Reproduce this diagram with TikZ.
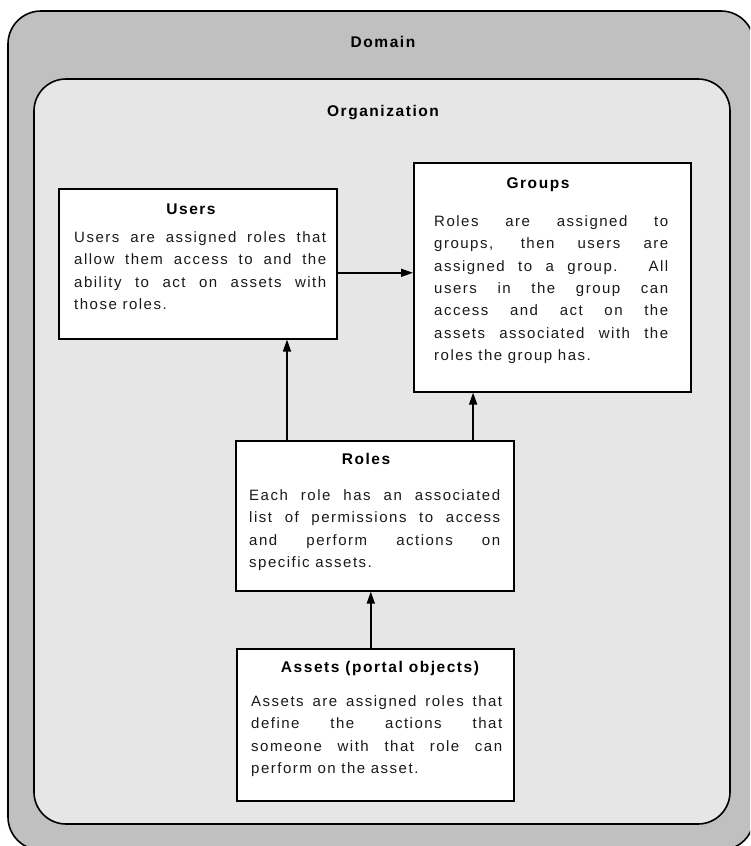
\documentclass[tikz,border=0pt]{standalone}
\usepackage{fontspec}
\setmainfont{Liberation Sans}
\newfontfamily\diafont{Liberation Sans}[LetterSpace=10]
\newfontfamily\headfont{Liberation Sans}[LetterSpace=10]
\usetikzlibrary{arrows.meta,calc}

\definecolor{domaingray}{HTML}{C0C0C0}
\definecolor{orggray}{HTML}{E6E6E6}
\definecolor{inkgray}{HTML}{1A1A1A}

\begin{document}
\begin{tikzpicture}[x=1pt,y=-1pt,
  frame/.style={draw=black, line width=1.6pt},
  card/.style={draw=black, line width=1.6pt, fill=white, inner sep=0pt,
    anchor=north west},
  heading/.style={font=\headfont\bfseries\fontsize{15.5}{18}\selectfont,
    inner sep=0pt, anchor=base},
  body/.style={font=\diafont\fontsize{15}{22.3}\selectfont,
    text=inkgray, inner sep=0pt, align=justify, anchor=north west},
  link/.style={line width=1.7pt, -{Triangle[length=12pt,width=8pt]}}
]
\useasboundingbox (0,0) rectangle (750,846);

% outer domain frame, running past the page edge at right and bottom
\begin{scope}
  \clip (0,0) rectangle (750,846);
  \draw[frame, fill=domaingray, rounded corners=33pt] (8,11) rectangle (754,850);
\end{scope}
\node[heading] (domainlabel) at (383,47) {Domain};

% organization frame
\draw[frame, fill=orggray, rounded corners=32pt] (34,79) rectangle (730,824);
\node[heading] (orglabel) at (383,116) {Organization};

% the four boxes
\node[card, minimum width=278pt, minimum height=150pt] (users)  at (58,188)  {};
\node[card, minimum width=277pt, minimum height=229pt] (groups) at (413,162) {};
\node[card, minimum width=278pt, minimum height=150pt] (roles)  at (235,440) {};
\node[card, minimum width=277pt, minimum height=152pt] (assets) at (236,648) {};

% titles
\node[heading] (userstitle)  at (191,214) {Users};
\node[heading] (groupstitle) at (538,188) {Groups};
\node[heading] (rolestitle)  at (366,464) {Roles};
\node[heading] (assetstitle) at (380,672) {Assets (portal objects)};

% descriptions
\node[body, text width=252pt] (userstext) at (74,231.5)
  {Users are assigned roles that\linebreak
   allow them access to and the\linebreak
   ability to act on assets with\linebreak
   those roles.};
\node[body, text width=234pt] (groupstext) at (434,215.5)
  {Roles are assigned to\linebreak
   groups, then users are\linebreak
   assigned to a group. All\linebreak
   users in the group can\linebreak
   access and act on the\linebreak
   assets associated with the\linebreak
   roles the group has.};
\node[body, text width=251pt] (rolestext) at (249,489.5)
  {Each role has an associated\linebreak
   list of permissions to access\linebreak
   and perform actions on\linebreak
   specific assets.};
\node[body, text width=251pt] (assetstext) at (251,695.5)
  {Assets are assigned roles that\linebreak
   define the actions that\linebreak
   someone with that role can\linebreak
   perform on the asset.};

% connectors
\draw[link] ([yshift=-9pt]users.east) -- ([yshift=-9pt]users.east -| groups.west);
\draw[link] ([xshift=52pt]roles.north west) -- ([xshift=52pt]roles.north west |- users.south);
\draw[link] ([xshift=-41.5pt]roles.north east) -- ([xshift=-41.5pt]roles.north east |- groups.south);
\draw[link] ([xshift=-4.5pt]assets.north) -- ([xshift=-4.5pt]assets.north |- roles.south);
\end{tikzpicture}
\end{document}
